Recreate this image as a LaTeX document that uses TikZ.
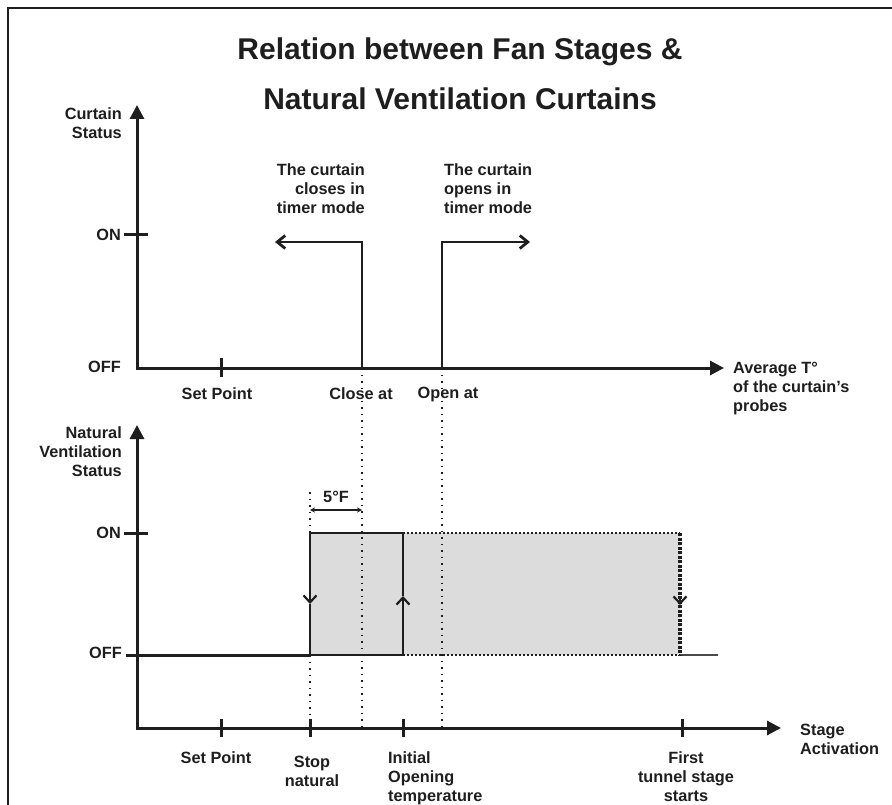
\documentclass[tikz,border=0pt]{standalone}
\usepackage{fontspec}
\setmainfont{Liberation Sans}
\definecolor{chartink}{HTML}{1E1E1E}
\definecolor{zonegray}{HTML}{DCDCDC}
\definecolor{tailgray}{HTML}{4A4A4A}
\usetikzlibrary{arrows.meta}
\tikzset{
    chartlabel/.style={
        inner sep=0pt,
        text=chartink,
        font=\bfseries\fontsize{16.3}{19}\selectfont
    },
    charttitle/.style={
        inner sep=0pt,
        text=chartink,
        font=\bfseries\fontsize{30}{36}\selectfont
    },
    chartaxis/.style={
        {Triangle[length=14pt,width=14pt]}-{Triangle[length=14pt,width=14pt]},
        draw=chartink,
        line width=3pt
    },
    charttick/.style={
        draw=chartink,
        line width=3pt
    },
    curtainpath/.style={
        -{Straight Barb[length=8pt,width=13pt]},
        draw=chartink,
        line width=2.8pt
    },
    guideline/.style={
        draw=chartink,
        line width=1.3pt,
        dash pattern=on 1.5pt off 5pt
    },
    zoneedge/.style={
        draw=chartink,
        line width=2.4pt
    },
    zonedotted/.style={
        draw=chartink,
        line width=2.2pt,
        dash pattern=on 2pt off 2pt
    },
    zonebarb/.style={
        -{Straight Barb[length=7pt,width=13pt]},
        draw=chartink,
        line width=2.2pt
    },
    spanarrow/.style={
        {Stealth[length=5pt,width=5pt]}-{Stealth[length=5pt,width=5pt]},
        draw=chartink,
        line width=1.3pt
    }
}
\begin{document}
\begin{tikzpicture}[x=1pt,y=-1pt]
    \useasboundingbox (0,0) rectangle (892,805);

    \coordinate (frameBottom) at (8,805);
    \coordinate (frameCorner) at (8,8);
    \coordinate (frameRight) at (892,8);
    \draw[line width=2.8pt,draw=chartink] (frameBottom) -- (frameCorner) -- (frameRight);

    \node[charttitle] (titleTop) at (460,52) {Relation between Fan Stages \&};
    \node[charttitle] (titleBottom) at (460,99) {Natural Ventilation Curtains};

    % curtain status chart
    \coordinate (topTip) at (137,105);
    \coordinate (topOrigin) at (137,368);
    \coordinate (topEnd) at (724,368);
    \draw[chartaxis] (topTip) -- (topOrigin) -- (topEnd);

    \node[chartlabel,anchor=north east,align=right] (curtainAxis) at (122,107) {Curtain\\Status};
    \node[chartlabel,anchor=east] (curtainOn) at (121,235) {ON};
    \node[chartlabel,anchor=east] (curtainOff) at (121,367) {OFF};
    \node[chartlabel,anchor=north west,align=left] (averageAxis) at (733,362) {Average T°\\of the curtain’s\\probes};

    \coordinate (curtainOnIn) at (124,235);
    \coordinate (curtainOnOut) at (148,235);
    \draw[charttick] (curtainOnIn) -- (curtainOnOut);
    \coordinate (setTopHigh) at (221,358);
    \coordinate (setTopLow) at (221,377);
    \draw[charttick] (setTopHigh) -- (setTopLow);

    \node[chartlabel,anchor=north] (setTop) at (217,387) {Set Point};
    \node[chartlabel,anchor=north] (closeAt) at (361,387) {Close at};
    \node[chartlabel,anchor=north] (openAt) at (448,387) {Open at};

    \coordinate (closeBase) at (362,368);
    \coordinate (closeTop) at (362,242);
    \coordinate (closeEnd) at (275,242);
    \draw[curtainpath] (closeBase) -- (closeTop) -- (closeEnd);
    \coordinate (openBase) at (442,368);
    \coordinate (openTop) at (442,242);
    \coordinate (openEnd) at (530,242);
    \draw[curtainpath] (openBase) -- (openTop) -- (openEnd);

    \node[chartlabel,anchor=north east,align=right] (closesNote) at (365,163) {The curtain\\closes in\\timer mode};
    \node[chartlabel,anchor=north west,align=left] (opensNote) at (444,163) {The curtain\\opens in\\timer mode};

    % natural ventilation chart
    \coordinate (lowTip) at (137,425);
    \coordinate (lowOrigin) at (137,728);
    \coordinate (lowEnd) at (781,728);
    \draw[chartaxis] (lowTip) -- (lowOrigin) -- (lowEnd);

    \node[chartlabel,anchor=north east,align=right] (naturalAxis) at (122,426) {Natural\\Ventilation\\Status};
    \node[chartlabel,anchor=east] (naturalOn) at (121,533) {ON};
    \node[chartlabel,anchor=east] (naturalOff) at (122,653) {OFF};
    \node[chartlabel,anchor=north west,align=left] (stageAxis) at (800,724) {Stage\\Activation};

    \coordinate (naturalOnIn) at (124,533);
    \coordinate (naturalOnOut) at (148,533);
    \draw[charttick] (naturalOnIn) -- (naturalOnOut);

    \coordinate (stopOn) at (310,533);
    \coordinate (stopDown) at (310,604);
    \coordinate (stopOff) at (310,655);
    \coordinate (initialOn) at (403,533);
    \coordinate (initialUp) at (403,596);
    \coordinate (initialOff) at (403,655);
    \coordinate (tunnelOn) at (680,533);
    \coordinate (tunnelBarbStart) at (680,598);
    \coordinate (tunnelDown) at (680,605);
    \coordinate (tunnelOff) at (680,655);
    \coordinate (tailEnd) at (718,655);
    \coordinate (offStart) at (126,655);

    \fill[zonegray] (stopOn) rectangle (tunnelOff);

    \coordinate (closeLow) at (362,728);
    \coordinate (openLow) at (442,728);
    \coordinate (stopGuide) at (310,492);
    \coordinate (stopLow) at (310,728);
    \draw[guideline] (closeBase) -- (closeLow);
    \draw[guideline] (openBase) -- (openLow);
    \draw[guideline] (stopGuide) -- (stopOn);
    \draw[guideline] (stopOff) -- (stopLow);

    \draw[charttick] (offStart) -- (stopOff);
    \draw[draw=tailgray,line width=1.8pt] (tunnelOff) -- (tailEnd);
    \draw[zoneedge] (stopOff) -- (initialOff);
    \draw[zoneedge] (stopOn) -- (initialOn);
    \draw[zonedotted] (initialOn) -- (tunnelOn);
    \draw[zonedotted] (initialOff) -- (tunnelOff);
    \draw[zonedotted,line width=3.2pt,dash pattern=on 3pt off 1.5pt] (tunnelOn) -- (tunnelOff);

    \draw[zonebarb] (stopOn) -- (stopDown);
    \draw[zoneedge] (stopDown) -- (stopOff);
    \draw[zonebarb] (initialOff) -- (initialUp);
    \draw[zoneedge] (initialUp) -- (initialOn);
    \draw[zonebarb] (tunnelBarbStart) -- (tunnelDown);

    \coordinate (spanLeft) at (310,510);
    \coordinate (spanRight) at (362,510);
    \draw[spanarrow] (spanLeft) -- node[chartlabel,above=7pt] (spanLabel) {5°F} (spanRight);

    \coordinate (setLowHigh) at (221,719);
    \coordinate (setLowLow) at (221,737);
    \draw[charttick] (setLowHigh) -- (setLowLow);
    \coordinate (stopTickHigh) at (310,719);
    \coordinate (stopTickLow) at (310,737);
    \draw[charttick] (stopTickHigh) -- (stopTickLow);
    \coordinate (initialTickHigh) at (403,719);
    \coordinate (initialTickLow) at (403,737);
    \draw[charttick] (initialTickHigh) -- (initialTickLow);
    \coordinate (tunnelTickHigh) at (682,719);
    \coordinate (tunnelTickLow) at (682,737);
    \draw[charttick] (tunnelTickHigh) -- (tunnelTickLow);

    \node[chartlabel,anchor=north] (setLow) at (216,751) {Set Point};
    \node[chartlabel,anchor=north,align=center] (stopNatural) at (312,756) {Stop\\natural};
    \node[chartlabel,anchor=north west,align=left] (initialOpening) at (388,751) {Initial\\Opening\\temperature};
    \node[chartlabel,anchor=north,align=center] (firstTunnel) at (686,751) {First\\tunnel stage\\starts};
\end{tikzpicture}
\end{document}
